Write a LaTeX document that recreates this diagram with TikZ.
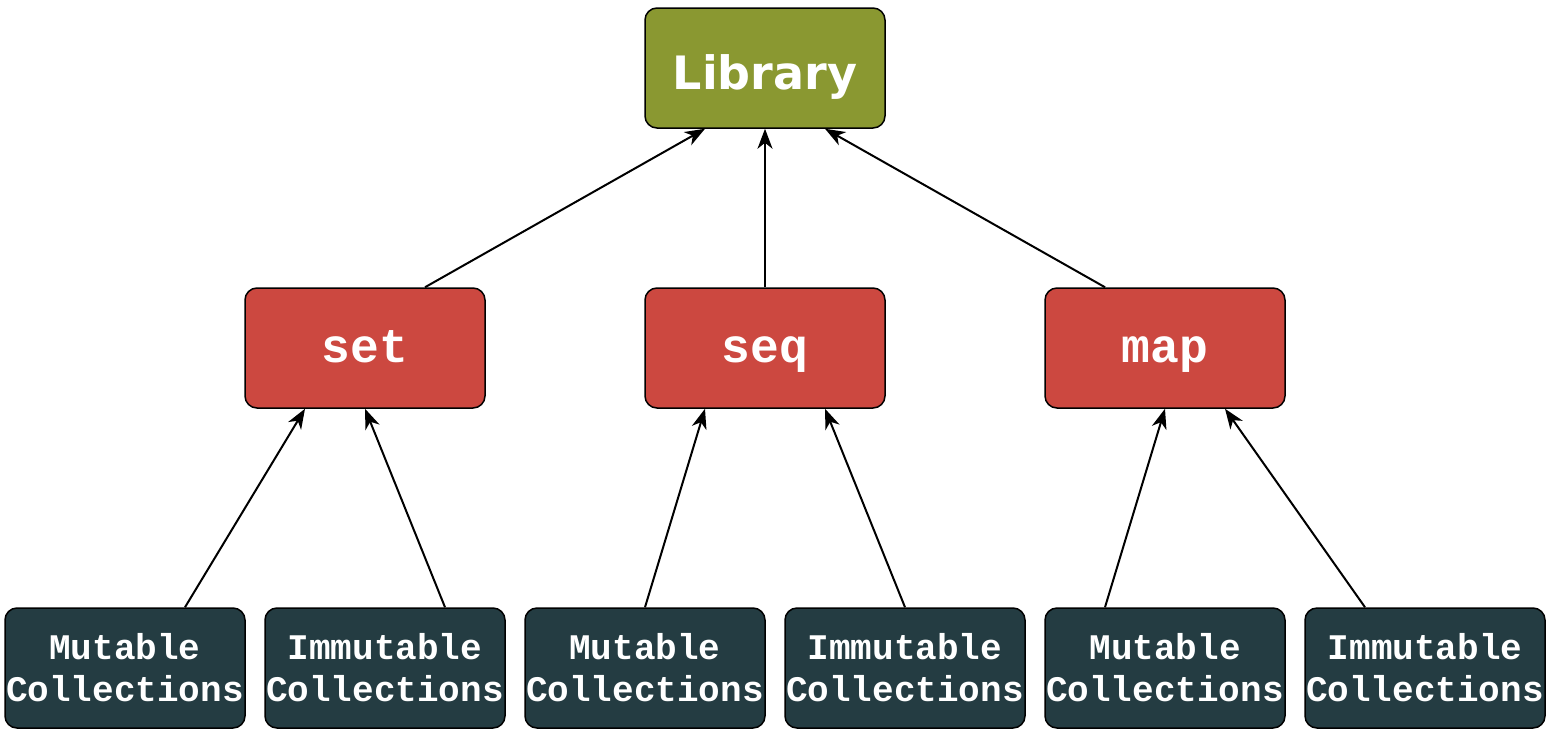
\documentclass[tikz,border=0pt]{standalone}
\usepackage{fontspec}
\setmainfont{DejaVu Sans}
\newfontfamily\monob{Liberation Mono}
\usetikzlibrary{arrows.meta}
\definecolor{libgreen}{HTML}{8A9831}
\definecolor{midred}{HTML}{CC4840}
\definecolor{darkbox}{HTML}{243C42}
\begin{document}
\begin{tikzpicture}[x=1pt,y=-1pt,
  box/.style={draw=black,line width=1.5pt,rounded corners=12pt,minimum width=240pt,minimum height=120pt,inner sep=0pt,text=white,align=center},
  libbox/.style={box,fill=libgreen,font=\fontsize{46}{50}\selectfont\bfseries,text height=42pt,text depth=0pt},
  catbox/.style={box,fill=midred,font=\fontsize{48}{52}\monob\bfseries,text height=28pt,text depth=0pt},
  leafbox/.style={box,fill=darkbox,font=\fontsize{36}{42}\monob\bfseries},
  link/.style={line width=2pt,-{Stealth[length=20pt,width=15pt,inset=6pt]}}]
\useasboundingbox (0,0) rectangle (1558,734);
\node[libbox] (lib) at (765,68) {Library};
\node[catbox] (set) at (365,348) {set};
\node[catbox] (seq) at (765,348) {seq};
\node[catbox] (map) at (1165,348) {map};
\node[leafbox] (m1) at (125,668) {Mutable\\Collections};
\node[leafbox] (i1) at (385,668) {Immutable\\Collections};
\node[leafbox] (m2) at (645,668) {Mutable\\Collections};
\node[leafbox] (i2) at (905,668) {Immutable\\Collections};
\node[leafbox] (m3) at (1165,668) {Mutable\\Collections};
\node[leafbox] (i3) at (1425,668) {Immutable\\Collections};
\draw[link] ([xshift=60pt]set.north) -- ([xshift=-60pt]lib.south);
\draw[link] (seq.north) -- (lib.south);
\draw[link] ([xshift=-60pt]map.north) -- ([xshift=60pt]lib.south);
\draw[link] ([xshift=60pt]m1.north) -- ([xshift=-60pt]set.south);
\draw[link] ([xshift=60pt]i1.north) -- (set.south);
\draw[link] (m2.north) -- ([xshift=-60pt]seq.south);
\draw[link] (i2.north) -- ([xshift=60pt]seq.south);
\draw[link] ([xshift=-60pt]m3.north) -- (map.south);
\draw[link] ([xshift=-60pt]i3.north) -- ([xshift=60pt]map.south);
\end{tikzpicture}
\end{document}
